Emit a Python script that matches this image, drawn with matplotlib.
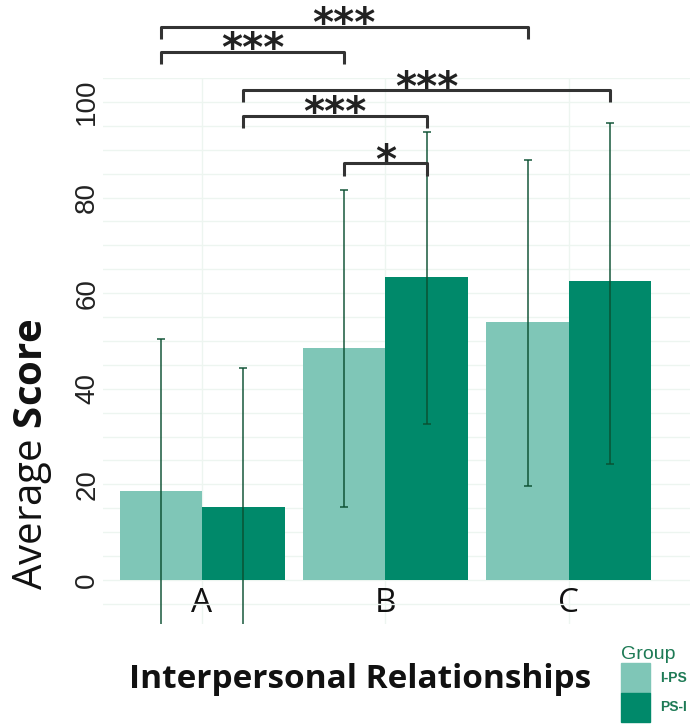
import numpy as np
import matplotlib
matplotlib.use("Agg")
import matplotlib.pyplot as plt
from matplotlib.patches import Patch
from matplotlib.ticker import MultipleLocator

# DATA
categories = ["A", "B", "C"]
groups = ["I-PS", "PS-I"]
means = {"I-PS": [18.6, 48.5, 54.0], "PS-I": [15.3, 63.4, 62.6]}
err_low = {"I-PS": [31.8, 33.2, 34.4], "PS-I": [29.1, 30.8, 38.3]}
err_high = {"I-PS": [31.8, 33.0, 33.9], "PS-I": [29.1, 30.3, 33.0]}

# comparisons: (category, group) pairs and significance label
comparisons = [
    (("A", "I-PS"), ("C", "I-PS"), "***"),
    (("A", "I-PS"), ("B", "I-PS"), "***"),
    (("A", "PS-I"), ("C", "PS-I"), "***"),
    (("A", "PS-I"), ("B", "PS-I"), "***"),
    (("B", "I-PS"), ("B", "PS-I"), "*"),
]
bracket_heights = [115.7, 110.5, 102.5, 97.1, 87.2]

# STYLE
light = "#7fc6b7"
dark = "#00896a"
err_col = "#0a4f30"
grid_col = "#edf5f0"
bar_w = 0.45
offsets = {"I-PS": -bar_w / 2, "PS-I": bar_w / 2}
colors = {"I-PS": light, "PS-I": dark}

plt.rcParams["font.family"] = ["Open Sans", "DejaVu Sans"]
plt.rcParams["mathtext.fontset"] = "custom"
plt.rcParams["mathtext.rm"] = "Open Sans"
plt.rcParams["mathtext.bf"] = "Open Sans:bold"

fig = plt.figure(figsize=(6.92, 7.26), dpi=100)
ax = fig.add_axes([103 / 692, 1 - 624 / 726, (690 - 103) / 692, (624 - 78) / 726])

x = np.arange(len(categories))
for g in groups:
    ax.bar(x + offsets[g], means[g], width=bar_w, color=colors[g], zorder=2, label=g)
for g in groups:
    ax.errorbar(x + offsets[g], means[g], yerr=[err_low[g], err_high[g]], fmt="none",
                ecolor=err_col, alpha=0.8, elinewidth=1.3, capsize=3, capthick=1.3, zorder=3)

ax.set_xlim(-0.54, 2.66)
ax.set_ylim(-9.2, 105)
ax.set_yticks([0, 20, 40, 60, 80, 100])
ax.yaxis.set_minor_locator(MultipleLocator(5))
ax.set_xticks(x)
ax.set_xticklabels(categories, fontsize=24)
ax.tick_params(axis="x", length=0, pad=-27, colors="#111111")
ax.tick_params(axis="y", which="both", length=0, pad=2)
for lab in ax.get_yticklabels():
    lab.set_rotation(90)
    lab.set_va("center")
    lab.set_family("Liberation Sans")
    lab.set_fontsize(20)
    lab.set_color("#222222")

ax.grid(True, which="both", axis="y", color=grid_col, linewidth=1.0, zorder=0)
ax.grid(True, which="major", axis="x", color=grid_col, linewidth=1.0, zorder=0)
for s in ax.spines.values():
    s.set_visible(False)

# significance brackets
pos = {(c, g): i + offsets[g] for i, c in enumerate(categories) for g in groups}
for (a, b, label), h in zip(comparisons, bracket_heights):
    x1, x2 = pos[a], pos[b]
    ax.plot([x1, x1, x2, x2], [h - 2.6, h, h, h - 2.6], color="#333333", lw=2.2,
            clip_on=False, zorder=4, solid_capstyle="butt")
    ax.text((x1 + x2) / 2, h - 2.0, label, ha="center", va="baseline", fontsize=29,
            fontweight="bold", family="DejaVu Sans", color="#222222", clip_on=False)

fig.text(33 / 692, 1 - 454 / 726, r"Average $\mathbf{Score}$", rotation=90,
         ha="center", va="center", fontsize=29, color="#111111")
fig.text(360 / 692, 1 - 680 / 726, "Interpersonal Relationships", ha="center",
         va="center", fontsize=24, fontweight="bold", color="#111111")

leg = fig.legend(handles=[Patch(color=light, label="I-PS"), Patch(color=dark, label="PS-I")],
                 title="Group", loc="upper left", bbox_to_anchor=(621 / 692, 1 - 646 / 726),
                 frameon=False, prop={"family": "Liberation Sans", "weight": "bold", "size": 10},
                 handlelength=2.1, handleheight=2.9, labelspacing=0.0, handletextpad=0.7,
                 borderpad=0, borderaxespad=0, alignment="left")
leg.get_title().set_color("#1d7a55")
leg.get_title().set_family("Liberation Sans")
leg.get_title().set_fontsize(14)
for t in leg.get_texts():
    t.set_color("#1d7a55")

fig.savefig("out.png", dpi=100)
